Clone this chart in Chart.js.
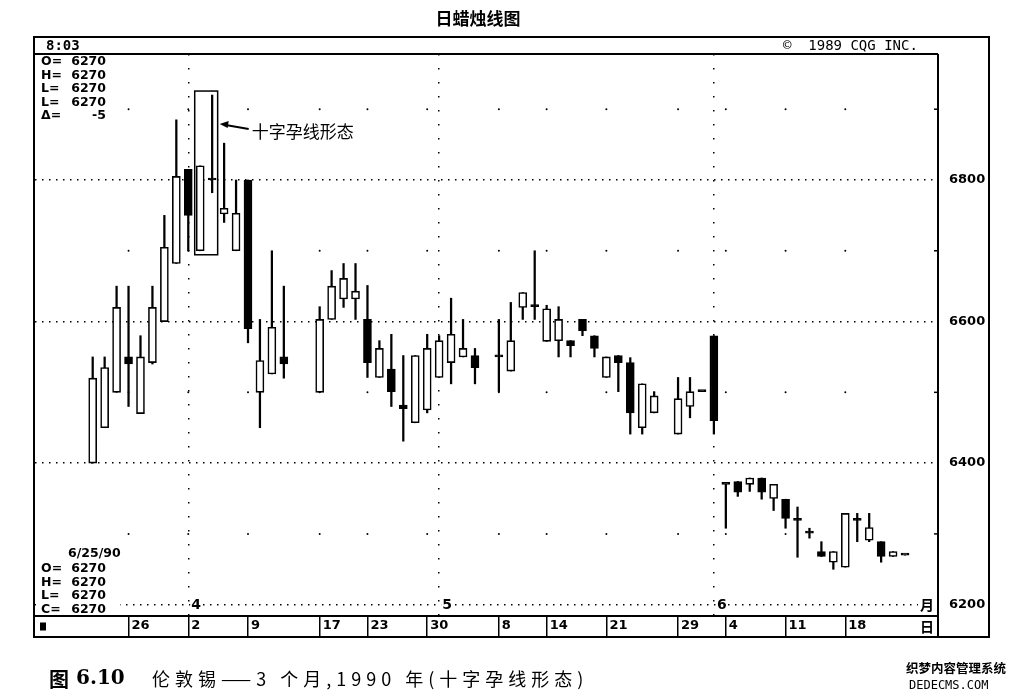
<!DOCTYPE html>
<html><head><meta charset="utf-8">
<script src="https://cdn.jsdelivr.net/npm/chart.js@4.4.1/dist/chart.umd.min.js"></script>
<style>html,body{margin:0;padding:0;background:#fff}#wrap{width:1019px;height:699px;position:relative}</style>
</head><body><div id="wrap"><canvas id="c"></canvas></div>
<script>
// ---- data (London tin, 3 months, 1990) ----
const dates = ["3/21","3/22","3/23","3/26","3/27","3/28","3/29","3/30","4/2","4/3","4/4","4/5","4/6","4/9","4/10","4/11","4/12",
  "4/17","4/18","4/19","4/20","4/23","4/24","4/25","4/26","4/27","4/30","5/1","5/2","5/3","5/4","5/8","5/9","5/10","5/11",
  "5/14","5/15","5/16","5/17","5/18","5/21","5/22","5/23","5/24","5/25","5/29","5/30","5/31","6/1",
  "6/4","6/5","6/6","6/7","6/8","6/11","6/12","6/13","6/14","6/15","6/18","6/19","6/20","6/21","6/22","6/25"];
const open  = [6400,6450,6500,6550,6470,6542,6600,6682,6815,6700,6800,6752,6700,6800,6500,6526,6550,
  6500,6603,6632,6632,6603,6521,6533,6482,6457,6475,6521,6542,6550,6552,6550,6530,6620,6621,
  6572,6573,6573,6603,6580,6521,6552,6542,6450,6471,6441,6480,6501,6580,
  6370,6374,6370,6379,6350,6349,6319,6301,6275,6260,6253,6319,6291,6289,6268,6270];
const high  = [6550,6550,6650,6650,6580,6650,6750,6885,6815,6820,6920,6852,6800,6800,6603,6700,6650,
  6621,6672,6682,6682,6651,6573,6582,6552,6552,6582,6580,6633,6603,6562,6603,6627,6641,6700,
  6623,6621,6573,6603,6580,6550,6552,6549,6512,6501,6521,6521,6501,6580,
  6370,6374,6379,6379,6370,6349,6338,6308,6289,6275,6329,6329,6329,6289,6275,6270];
const low   = [6400,6450,6500,6480,6470,6540,6600,6682,6700,6700,6782,6740,6700,6570,6450,6526,6520,
  6500,6603,6620,6603,6521,6521,6480,6431,6457,6471,6521,6512,6550,6512,6501,6530,6603,6603,
  6572,6550,6550,6580,6550,6521,6501,6441,6441,6471,6441,6464,6501,6441,
  6308,6353,6360,6349,6333,6308,6267,6294,6268,6250,6253,6289,6289,6260,6268,6270];
const close = [6520,6535,6620,6540,6550,6620,6705,6805,6750,6820,6800,6760,6753,6590,6545,6592,6540,
  6603,6650,6661,6643,6542,6562,6501,6477,6552,6562,6573,6582,6562,6535,6550,6573,6641,6621,
  6618,6603,6566,6587,6562,6550,6542,6471,6512,6495,6491,6501,6501,6460,
  6370,6359,6379,6359,6370,6322,6319,6301,6268,6275,6329,6319,6309,6268,6275,6270];
const weekTicks  = ["3/26","4/2","4/9","4/17","4/23","4/30","5/8","5/14","5/21","5/29","6/4","6/11","6/18"];
const weekLabels = ["26","2","9","17","23","30","8","14","21","29","4","11","18"];
const monthStarts = ["4/2","5/1","6/1"];
const monthLabels = ["4","5","6"];
const yTicks  = [6200,6300,6400,6500,6600,6700,6800,6900];
const yLabels = [6200,6400,6600,6800];
const halfLevels = [6300,6500,6700,6900];
const haramiDays = ["4/3","4/4"];
const lastInfo = {date:"6/25/90", O:6270, H:6270, L:6270, C:6270};
const cursorInfo = [["O=","6270"],["H=","6270"],["L=","6270"],["L=","6270"],["Δ=","-5"]];

// trading-day slot (weekdays since 3/21/1990)
function slot(md){
  const [m,d] = md.split('/').map(Number);
  const t = new Date(1990,2,21), end = new Date(1990,m-1,d);
  let n = 0;
  while (t < end){ t.setDate(t.getDate()+1); const w=t.getDay(); if (w!==0 && w!==6) n++; }
  return n;
}
const xs = dates.map(slot);
const weekSlots = weekTicks.map(slot);
const monthSlots = monthStarts.map(slot);

const wickData = xs.map((x,i)=>({x, y:[low[i], high[i]]}));
const bodyData = xs.map((x,i)=>({x, y:[open[i], close[i]]}));
const bodyFill = xs.map((x,i)=> close[i] > open[i] ? '#fff' : '#000');
const dotData = [];
halfLevels.forEach(l => weekSlots.forEach(x => dotData.push({x, y:l})));

const MONO = '"DejaVu Sans Mono", monospace';
const SANS = '"DejaVu Sans", sans-serif';
const CJK = '"Noto Sans CJK SC", sans-serif';

const deco = {
  id:'deco',
  afterDraw(chart){
    const ctx = chart.ctx, a = chart.chartArea, sx = chart.scales.x, sy = chart.scales.y;
    const L = 34, T = 37, R = 989, B = 637, rowB = a.bottom;
    ctx.save();
    // title
    ctx.fillStyle = '#000';
    ctx.font = 'bold 17px ' + CJK; ctx.textAlign = 'center'; ctx.textBaseline = 'middle';
    ctx.fillText('日蜡烛线图', 478, 19);
    // frame
    ctx.strokeStyle = '#000'; ctx.lineWidth = 2;
    ctx.beginPath();
    ctx.moveTo(L, T); ctx.lineTo(R, T); ctx.lineTo(R, B); ctx.lineTo(L, B); ctx.closePath();
    ctx.moveTo(L, a.top); ctx.lineTo(a.right, a.top);
    ctx.moveTo(a.right, a.top); ctx.lineTo(a.right, B);
    ctx.moveTo(L, rowB); ctx.lineTo(a.right, rowB);
    ctx.stroke();
    // minor ticks on right border
    ctx.lineWidth = 1.5;
    yTicks.filter(v => !yLabels.includes(v)).forEach(v => {
      const y = sy.getPixelForValue(v);
      ctx.beginPath(); ctx.moveTo(a.right - 4, y); ctx.lineTo(a.right, y); ctx.stroke();
    });
    // header
    ctx.textAlign = 'left'; ctx.textBaseline = 'middle';
    ctx.font = 'bold 14px ' + MONO; ctx.fillText('8:03', 46, 46);
    ctx.font = '14px ' + MONO; ctx.fillText('©  1989 CQG INC.', 783, 46);
    // cursor info top-left
    ctx.font = 'bold 12.5px ' + SANS;
    cursorInfo.forEach((r,i) => {
      const y = 62 + i*13.5;
      ctx.textAlign = 'left'; ctx.fillText(r[0], 41, y);
      ctx.textAlign = 'right'; ctx.fillText(r[1], 106, y);
    });
    // last bar info bottom-left
    const y6200 = sy.getPixelForValue(6200);
    ctx.fillStyle = '#fff'; ctx.fillRect(36, y6200 - 6, 84, 10);
    ctx.fillStyle = '#000';
    ctx.textAlign = 'left'; ctx.fillText(lastInfo.date, 68, 554);
    [['O=',lastInfo.O],['H=',lastInfo.H],['L=',lastInfo.L],['C=',lastInfo.C]].forEach((r,i) => {
      const y = 569 + i*13.5;
      ctx.textAlign = 'left'; ctx.fillText(r[0], 41, y);
      ctx.textAlign = 'right'; ctx.fillText(String(r[1]), 106, y);
    });
    // month labels on 6200 line
    ctx.font = 'bold 14px ' + SANS; ctx.textAlign = 'left';
    monthSlots.forEach((s,i) => {
      const x = sx.getPixelForValue(s) + 3;
      ctx.fillStyle = '#fff'; ctx.fillRect(x - 1, y6200 - 8, 12, 16);
      ctx.fillStyle = '#000'; ctx.fillText(monthLabels[i], x, y6200 + 1);
    });
    ctx.font = 'bold 14px ' + CJK;
    ctx.fillStyle = '#fff'; ctx.fillRect(a.right - 20, y6200 - 9, 19, 18);
    ctx.fillStyle = '#000'; ctx.fillText('月', a.right - 18, y6200);
    // date row extras
    ctx.fillText('日', a.right - 18, (rowB + B)/2);
    ctx.fillRect(40, (rowB + B)/2 - 4, 6, 8);
    // harami box and annotation
    const hi = haramiDays.map(d => dates.indexOf(d));
    const bx0 = sx.getPixelForValue(xs[hi[0]]) - 5.5;
    const bx1 = sx.getPixelForValue(xs[hi[1]]) + 5.5;
    const by0 = sy.getPixelForValue(Math.max(...hi.map(i => high[i]))) - 4;
    const by1 = sy.getPixelForValue(Math.min(...hi.map(i => low[i]))) + 4;
    ctx.lineWidth = 1.5; ctx.strokeRect(bx0, by0, bx1 - bx0, by1 - by0);
    const ax0 = bx1 + 31, ay0 = by0 + 38, ax1 = bx1 + 2, ay1 = by0 + 33;
    ctx.lineWidth = 2;
    ctx.beginPath(); ctx.moveTo(ax0, ay0); ctx.lineTo(ax1 + 6, ay1 + 1); ctx.stroke();
    ctx.beginPath(); ctx.moveTo(ax1, ay1); ctx.lineTo(ax1 + 9, ay1 - 3); ctx.lineTo(ax1 + 8, ay1 + 4); ctx.closePath(); ctx.fill();
    ctx.font = '17px ' + CJK; ctx.textAlign = 'left';
    ctx.fillText('十字孕线形态', ax0 + 3, ay0 + 2);
    // caption
    ctx.font = 'bold 20px ' + CJK; ctx.fillText('图', 49, 679);
    ctx.font = 'bold 20px "DejaVu Serif", serif'; ctx.fillText('6.10', 76, 679);
    ctx.font = '18px ' + CJK;
    try { ctx.letterSpacing = '5px'; } catch(e) {}
    ctx.fillText('伦敦锡——3 个月,1990 年(十字孕线形态)', 152, 679);
    try { ctx.letterSpacing = '0px'; } catch(e) {}
    // watermark
    ctx.font = 'bold 12.5px ' + CJK; ctx.fillText('织梦内容管理系统', 906, 668);
    ctx.font = '12px ' + MONO; ctx.fillText('DEDECMS.COM', 909, 686);
    ctx.restore();
  }
};

new Chart(document.getElementById('c'), {
  data: {
    datasets: [
      { type:'scatter', label:'grid dots', data: dotData, pointRadius: 1, pointBackgroundColor:'#000', pointBorderWidth:0, order: 3 },
      { type:'bar', label:'range', data: wickData, backgroundColor:'#000', barThickness: 1.6, grouped:false, order: 2 },
      { type:'bar', label:'body', data: bodyData, backgroundColor: bodyFill, borderColor:'#000', borderWidth:1.6,
        borderSkipped:false, barThickness: 8, minBarLength: 2, grouped:false, order: 1 }
    ]
  },
  options: {
    responsive:true, maintainAspectRatio:false, animation:false,
    layout:{ padding:{ left:35, top:54, right:30, bottom:62 } },
    plugins:{ legend:{display:false}, tooltip:{enabled:false}, title:{display:false} },
    scales:{
      x:{ type:'linear', position:'bottom', min:-4.83, max:70.76, offset:false,
        afterBuildTicks: s => { s.ticks = weekSlots.map(v => ({value:v})); },
        afterFit: s => { s.height = 21; },
        ticks:{ autoSkip:false, maxRotation:0, align:'start', padding:-19, labelOffset:3, color:'#000',
          font:{ family:'DejaVu Sans', weight:'bold', size:13 },
          callback: v => { const k = weekSlots.indexOf(v); return k >= 0 ? weekLabels[k] : ''; } },
        grid:{ offset:false, drawOnChartArea:false, drawTicks:true, tickLength:21, color:'#000', lineWidth:1.5 },
        border:{ display:false } },
      xm:{ type:'linear', position:'top', min:-4.83, max:70.76, offset:false,
        afterBuildTicks: s => { s.ticks = monthSlots.map(v => ({value:v})); },
        afterFit: s => { s.height = 0; },
        ticks:{ display:false },
        grid:{ offset:false, drawOnChartArea:true, drawTicks:false, color:'#000', lineWidth:1.5 },
        border:{ display:false, dash:[1.5, 12.5] } },
      y:{ type:'linear', position:'right', min:6184, max:6978,
        afterBuildTicks: s => { s.ticks = yTicks.map(v => ({value:v})); },
        afterFit: s => { s.width = 51; },
        ticks:{ color:'#000', padding:11, font:{ family:'DejaVu Sans', weight:'bold', size:13 },
          callback: v => yLabels.includes(v) ? String(v) : '' },
        grid:{ drawTicks:false, lineWidth:1.5,
          color: c => (c.tick && yLabels.includes(c.tick.value)) ? '#000' : 'rgba(0,0,0,0)' },
        border:{ display:false, dash:[1.5, 5.5] } }
    }
  },
  plugins:[deco]
});
</script></body></html>
